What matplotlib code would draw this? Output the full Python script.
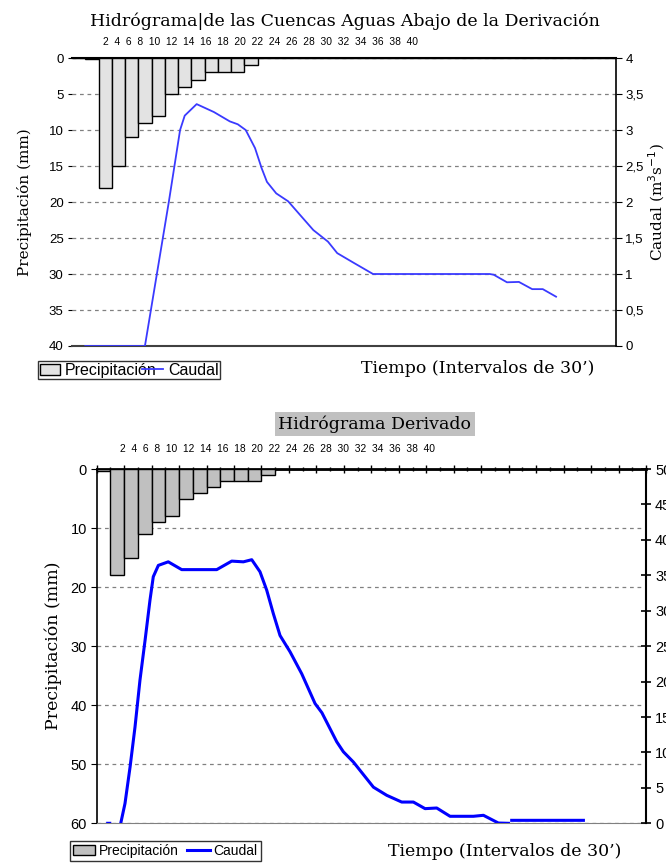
import numpy as np
import matplotlib
matplotlib.use("Agg")
import matplotlib.pyplot as plt
from matplotlib.ticker import MultipleLocator

plt.rcParams['font.family'] = ['Liberation Sans', 'DejaVu Sans']
SERIF = ['DejaVu Serif']

# ---------------- datos ----------------
intervalos = list(range(0, 41))
etiquetas_top = [str(i) for i in range(2, 41, 2)]

# precipitación (mm) por intervalo, cuenca aguas abajo
precip_1 = [0, 0.2, 18, 15, 11, 9, 8, 5, 4, 3, 2, 2, 2, 1] + [0] * 27
# caudal (m3/s) cuenca aguas abajo
t_q1 = [0.5, 4.1, 5.0, 5.9, 6.8, 7.65, 8.0, 8.9, 10.2, 11.4, 12.0, 12.6, 13.3,
        13.8, 14.2, 14.9, 15.8, 16.7, 17.7, 18.8, 19.5, 20.7, 22.2, 31.0, 31.3,
        32.3, 33.2, 34.2, 35.0, 36.0]
q1 = [0, 0, 0, 1.0, 2.0, 3.0, 3.2, 3.36, 3.25, 3.12, 3.08, 3.0, 2.75,
      2.47, 2.28, 2.12, 2.01, 1.82, 1.61, 1.45, 1.29, 1.16, 1.0, 1.0, 0.99,
      0.885, 0.89, 0.79, 0.79, 0.685]
caudal_ticks_1 = [0, 0.5, 1, 1.5, 2, 2.5, 3, 3.5, 4]

# hidrograma derivado
intervalos_2 = list(range(1, 41))
precip_2 = [0.3, 18, 15, 11, 9, 8, 5, 4, 3, 2, 2, 2, 1] + [0] * 27
t_q2 = [1.3, 1.45, np.nan,
        2.25, 2.56, 2.93, 3.29, 3.65, 4.02, 4.38, 4.62, 4.99, 5.71, 6.69, 8.02,
        9.24, 10.33, 11.18, 11.79, 12.39, 12.88, 13.36, 13.85, 14.58, 15.43,
        16.4, 16.9, 17.98, 18.46, 19.19, 20.65, 21.62, 22.71, 23.56, 24.41,
        25.26, 26.23, 27.93, 28.66, 29.75, 30.48, np.nan, 30.72, 35.94]
q2 = [0, 0, np.nan,
      0, 2.8, 7.95, 13.6, 20.2, 25.8, 31.5, 34.8, 36.4, 36.9, 35.8, 35.8,
      35.8, 37.0, 36.9, 37.2, 35.5, 32.9, 29.6, 26.5, 24.2, 21.1,
      16.9, 15.6, 11.5, 10.1, 8.65, 5.1, 3.95, 3.0, 3.0, 2.07,
      2.16, 0.99, 0.99, 1.13, 0.04, 0.0, np.nan, 0.42, 0.42]

fig = plt.figure(figsize=(6.66, 8.65), dpi=100)

# ================= grafico 1 =================
ax1 = fig.add_axes([0.1081, 0.6000, 0.8164, 0.3329])
ax1.bar(intervalos, precip_1, width=1.0, color='#e3e3e3', edgecolor='black',
        linewidth=1.0, zorder=3, label='Precipitación')
ax1.set_xlim(-0.5, 40.5)
ax1.set_ylim(40, 0)
ax1.yaxis.set_major_locator(MultipleLocator(5))
ax1.set_xticks([])
ax1.grid(axis='y', linestyle=(0, (3, 3)), color='#808080', linewidth=0.9)
ax1.tick_params(axis='y', length=3, labelsize=9.5, pad=3)
ax1.set_ylabel('Precipitación (mm)', family=SERIF, fontsize=11, labelpad=12)
for s in ['right', 'left']:
    ax1.spines[s].set_visible(False)
ax1.spines['top'].set_linewidth(1.5)
ax1.spines['bottom'].set_color('#404040')
ax1.spines['bottom'].set_linewidth(1.5)

ax1b = ax1.twinx()
ax1b.plot(t_q1, q1, color='#3a3aff', linewidth=1.3, label='Caudal', zorder=4)
ax1b.set_ylim(0, 4)
ax1b.set_yticks(caudal_ticks_1)
ax1b.set_yticklabels([f'{v:g}'.replace('.', ',') for v in caudal_ticks_1])
ax1b.tick_params(axis='y', length=4, labelsize=9.5, pad=3)
ax1b.set_ylabel('Caudal (m$^3$s$^{-1}$)', family=SERIF, fontsize=11, labelpad=2)
for s in ['left', 'top', 'bottom']:
    ax1b.spines[s].set_visible(False)
ax1b.spines['right'].set_linewidth(1.2)

fig.text(0.518, 0.976, 'Hidrógrama|de las Cuencas Aguas Abajo de la Derivación',
         family=SERIF, fontsize=12.5, ha='center', va='center')
fig.text(0.155, 0.951, '  '.join(etiquetas_top), fontsize=7.4, ha='left', va='center')
fig.text(0.717, 0.574, 'Tiempo (Intervalos de 30’)', family=SERIF, fontsize=12.5,
         ha='center', va='center')

h1, l1 = ax1.get_legend_handles_labels()
h2, l2 = ax1b.get_legend_handles_labels()
fig.legend(h1 + h2, l1 + l2, loc='center left', bbox_to_anchor=(0.057, 0.572),
           ncol=2, fontsize=11.5, frameon=True, fancybox=False, edgecolor='black',
           handlelength=1.3, handletextpad=0.3, columnspacing=-0.9,
           borderpad=0.1, borderaxespad=0)

# ================= grafico 2 =================
ax2 = fig.add_axes([0.1452, 0.0482, 0.8248, 0.4096])
ax2.bar(intervalos_2, precip_2, width=1.0, color='#c0c0c0', edgecolor='black',
        linewidth=1.0, zorder=3, label='Precipitación')
ax2.set_xlim(0.5, 40.5)
ax2.set_ylim(60, 0)
ax2.yaxis.set_major_locator(MultipleLocator(10))
ax2.set_xticks(np.arange(0.5, 41, 2))
ax2.set_xticks(np.arange(1.5, 41, 2), minor=True)
ax2.xaxis.set_ticks_position('top')
ax2.tick_params(axis='x', which='both', direction='inout', labeltop=False,
                length=6, width=1)
ax2.tick_params(axis='x', which='minor', length=3)
ax2.grid(axis='y', linestyle=(0, (3, 3)), color='#808080', linewidth=0.9)
ax2.tick_params(axis='y', length=4, labelsize=10.5, pad=3)
ax2.set_ylabel('Precipitación (mm)', family=SERIF, fontsize=12.5, labelpad=6)
ax2.spines['right'].set_visible(False)
ax2.spines['top'].set_linewidth(2.0)
ax2.spines['left'].set_linewidth(1.2)
ax2.spines['bottom'].set_color('#808080')

ax2b = ax2.twinx()
ax2b.plot(t_q2, q2, color='#0000ff', linewidth=2.2, label='Caudal', zorder=4)
ax2b.set_ylim(0, 50)
ax2b.yaxis.set_major_locator(MultipleLocator(5))
ax2b.tick_params(axis='y', direction='inout', length=7, width=1.2, labelsize=10.5, pad=3)
for s in ['left', 'top', 'bottom']:
    ax2b.spines[s].set_visible(False)
ax2b.spines['right'].set_linewidth(1.5)

fig.text(0.563, 0.510, 'Hidrógrama Derivado', family=SERIF, fontsize=12.5,
         ha='center', va='center',
         bbox=dict(facecolor='#c0c0c0', edgecolor='none', pad=2.5))
fig.text(0.18, 0.481, '  '.join(etiquetas_top), fontsize=7.4, ha='left', va='center')
fig.text(0.758, 0.016, 'Tiempo (Intervalos de 30’)', family=SERIF, fontsize=12.5,
         ha='center', va='center')

h1, l1 = ax2.get_legend_handles_labels()
h2, l2 = ax2b.get_legend_handles_labels()
fig.legend(h1 + h2, l1 + l2, loc='center left', bbox_to_anchor=(0.105, 0.016),
           ncol=2, fontsize=10, frameon=True, fancybox=False, edgecolor='black',
           handlelength=1.6, handletextpad=0.3, columnspacing=0.6,
           borderpad=0.2, borderaxespad=0)

fig.savefig('out.png', dpi=100)
